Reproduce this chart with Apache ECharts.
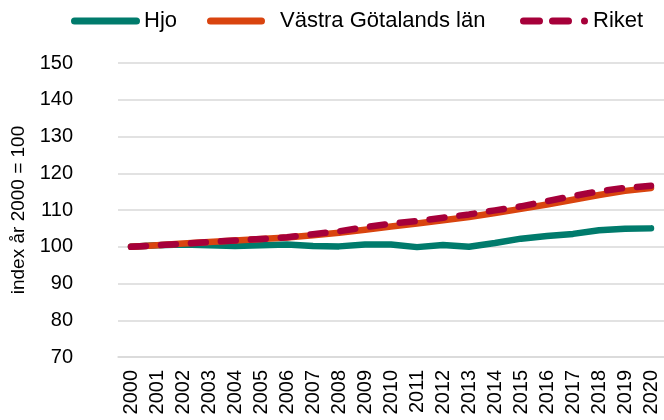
<!DOCTYPE html>
<html>
<head>
<meta charset="utf-8">
<script src="https://cdn.jsdelivr.net/npm/echarts@6/dist/echarts.min.js"></script>
<style>
  html, body { margin: 0; padding: 0; background: #fff; }
  #chart { width: 664px; height: 420px; }
</style>
</head>
<body>
<div id="chart"></div>
<script>
// data
const years = ['2000', '2001', '2002', '2003', '2004', '2005', '2006', '2007', '2008', '2009',
    '2010', '2011', '2012', '2013', '2014', '2015', '2016', '2017', '2018', '2019', '2020'];
const hjo = [100, 100.4, 100.6, 100.4, 100.2, 100.4, 100.6, 100.2, 100.1, 100.6,
    100.6, 99.9, 100.5, 100.0, 101.0, 102.2, 102.9, 103.5, 104.5, 104.9, 105.0];
const vastraGotaland = [100, 100.4, 100.9, 101.3, 101.7, 102.1, 102.5, 103.1, 103.8, 104.6,
    105.5, 106.3, 107.2, 108.1, 109.2, 110.3, 111.5, 112.8, 114.1, 115.2, 116.0];
const riket = [100, 100.4, 100.8, 101.3, 101.7, 102.1, 102.6, 103.4, 104.2, 105.3,
    106.3, 107.0, 107.9, 108.8, 109.9, 111.0, 112.4, 113.8, 115.1, 116.0, 116.6];

const font = 'Liberation Sans, Arial, sans-serif';
const colors = { hjo: '#007b6c', vgl: '#d9440f', riket: '#a6003a' };

// legend-ikoner (rundade streck)
const pill = (w) => `path://M3.5,0 H${w - 3.5} A3.5,3.5 0 0 1 ${w - 3.5},7 H3.5 A3.5,3.5 0 0 1 3.5,0 Z`;
const dashIcon = 'path://M3.5,0 H19.5 A3.5,3.5 0 0 1 19.5,7 H3.5 A3.5,3.5 0 0 1 3.5,0 Z ' +
    'M32.5,0 H48.5 A3.5,3.5 0 0 1 48.5,7 H32.5 A3.5,3.5 0 0 1 32.5,0 Z ' +
    'M64.5,0 A3.5,3.5 0 0 1 64.5,7 A3.5,3.5 0 0 1 64.5,0 Z';

function legendItem(name, left, width, icon, gapAdjust) {
    return {
        top: 10,
        left: left,
        padding: 0,
        itemWidth: width,
        itemHeight: 7,
        icon: icon,
        textStyle: { fontFamily: font, fontSize: 22, color: '#000', padding: [0, 0, 0, gapAdjust] },
        data: [name]
    };
}

const chart = echarts.init(document.getElementById('chart'));

chart.setOption({
    animation: false,
    legend: [
        legendItem('Hjo', 71, 69, pill(69), -1),
        legendItem('Västra Götalands län', 207, 58, pill(58), 10),
        legendItem('Riket', 520, 68, dashIcon, 0)
    ],
    grid: { left: 118, right: 0, top: 63, bottom: 63 },
    xAxis: {
        type: 'category',
        data: years,
        boundaryGap: true,
        axisLine: { lineStyle: { color: '#d9d9d9', width: 1.5 } },
        axisTick: { show: false },
        axisLabel: { rotate: 90, fontFamily: font, fontSize: 20, color: '#000', margin: 13, interval: 0 }
    },
    yAxis: {
        type: 'value',
        min: 70,
        max: 150,
        interval: 10,
        name: 'index år 2000 = 100',
        nameLocation: 'middle',
        nameGap: 88,
        nameTextStyle: { fontFamily: font, fontSize: 19, color: '#000' },
        axisLine: { show: false },
        axisTick: { show: false },
        axisLabel: { fontFamily: font, fontSize: 20, color: '#000', margin: 45 },
        splitLine: { lineStyle: { color: '#d9d9d9', width: 1.5 } }
    },
    series: [
        {
            name: 'Hjo',
            type: 'line',
            data: hjo,
            symbol: 'none',
            color: colors.hjo,
            lineStyle: { width: 6.5, cap: 'round', join: 'round' }
        },
        {
            name: 'Västra Götalands län',
            type: 'line',
            data: vastraGotaland,
            symbol: 'none',
            color: colors.vgl,
            lineStyle: { width: 6.5, cap: 'round', join: 'round' }
        },
        {
            name: 'Riket',
            type: 'line',
            data: riket,
            symbol: 'none',
            color: colors.riket,
            lineStyle: { width: 6.5, cap: 'round', join: 'round', type: [15, 15] }
        }
    ]
});
</script>
</body>
</html>
